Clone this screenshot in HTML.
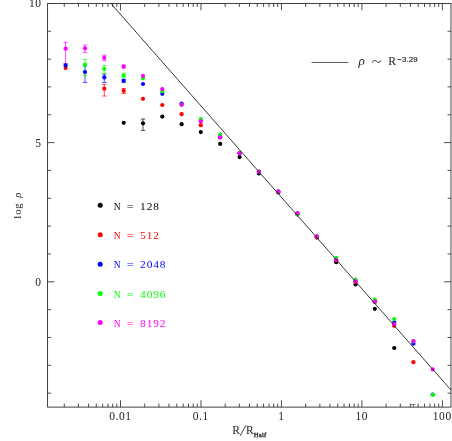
<!DOCTYPE html>
<html><head><meta charset="utf-8"><title>plot</title>
<style>
html,body{margin:0;padding:0;background:#fff;}
body{width:452px;height:441px;overflow:hidden;position:relative;font-family:"Liberation Serif",serif;}
svg text{font-family:"Liberation Serif",serif;}
.t{font:11px "Liberation Serif",serif;}
</style></head><body>
<svg width="452" height="441" viewBox="0 0 452 441" style="position:absolute;left:0;top:0;will-change:transform"><rect x="0" y="0" width="452" height="441" fill="#fff"/><rect x="47.6" y="3.45" width="403.40" height="403.65" fill="none" stroke="#222" stroke-width="0.85"/><path d="M64.25 407.1v-3.5M64.25 3.45v3.5M78.42 407.1v-3.5M78.42 3.45v3.5M88.48 407.1v-3.5M88.48 3.45v3.5M96.28 407.1v-3.5M96.28 3.45v3.5M102.65 407.1v-3.5M102.65 3.45v3.5M108.04 407.1v-3.5M108.04 3.45v3.5M112.70 407.1v-3.5M112.70 3.45v3.5M116.82 407.1v-3.5M116.82 3.45v3.5M120.50 407.1v-6.9M120.50 3.45v6.9M144.72 407.1v-3.5M144.72 3.45v3.5M158.89 407.1v-3.5M158.89 3.45v3.5M168.95 407.1v-3.5M168.95 3.45v3.5M176.75 407.1v-3.5M176.75 3.45v3.5M183.12 407.1v-3.5M183.12 3.45v3.5M188.51 407.1v-3.5M188.51 3.45v3.5M193.17 407.1v-3.5M193.17 3.45v3.5M197.29 407.1v-3.5M197.29 3.45v3.5M200.97 407.1v-6.9M200.97 3.45v6.9M225.19 407.1v-3.5M225.19 3.45v3.5M239.36 407.1v-3.5M239.36 3.45v3.5M249.42 407.1v-3.5M249.42 3.45v3.5M257.22 407.1v-3.5M257.22 3.45v3.5M263.59 407.1v-3.5M263.59 3.45v3.5M268.98 407.1v-3.5M268.98 3.45v3.5M273.64 407.1v-3.5M273.64 3.45v3.5M277.76 407.1v-3.5M277.76 3.45v3.5M281.44 407.1v-6.9M281.44 3.45v6.9M305.66 407.1v-3.5M305.66 3.45v3.5M319.83 407.1v-3.5M319.83 3.45v3.5M329.89 407.1v-3.5M329.89 3.45v3.5M337.69 407.1v-3.5M337.69 3.45v3.5M344.06 407.1v-3.5M344.06 3.45v3.5M349.45 407.1v-3.5M349.45 3.45v3.5M354.11 407.1v-3.5M354.11 3.45v3.5M358.23 407.1v-3.5M358.23 3.45v3.5M361.91 407.1v-6.9M361.91 3.45v6.9M386.13 407.1v-3.5M386.13 3.45v3.5M400.30 407.1v-3.5M400.30 3.45v3.5M410.36 407.1v-3.5M410.36 3.45v3.5M418.16 407.1v-3.5M418.16 3.45v3.5M424.53 407.1v-3.5M424.53 3.45v3.5M429.92 407.1v-3.5M429.92 3.45v3.5M434.58 407.1v-3.5M434.58 3.45v3.5M438.70 407.1v-3.5M438.70 3.45v3.5M442.38 407.1v-6.9M442.38 3.45v6.9M47.6 393.16h3.5M451.0 393.16h-3.5M47.6 365.32h3.5M451.0 365.32h-3.5M47.6 337.48h3.5M451.0 337.48h-3.5M47.6 309.64h3.5M451.0 309.64h-3.5M47.6 281.80h6.9M451.0 281.80h-6.9M47.6 253.96h3.5M451.0 253.96h-3.5M47.6 226.12h3.5M451.0 226.12h-3.5M47.6 198.28h3.5M451.0 198.28h-3.5M47.6 170.44h3.5M451.0 170.44h-3.5M47.6 142.60h6.9M451.0 142.60h-6.9M47.6 114.76h3.5M451.0 114.76h-3.5M47.6 86.92h3.5M451.0 86.92h-3.5M47.6 59.08h3.5M451.0 59.08h-3.5M47.6 31.24h3.5M451.0 31.24h-3.5" stroke="#222" stroke-width="0.8" fill="none"/><path d="M413.4 404.5V407.1M411.00 404.5h4.4" stroke="#333" stroke-width="0.62" fill="none"/><path d="M143.0 119.0V130.4M140.80 119.0h4.4M140.80 130.4h4.4" stroke="#000" stroke-width="0.68" fill="none"/><path d="M104.3 84.4V96.0M102.10 84.4h4.4M102.10 96.0h4.4M123.7 88.5V93.5M121.50 88.5h4.4M121.50 93.5h4.4" stroke="#f00" stroke-width="0.68" fill="none"/><path d="M85.0 66.0V82.4M82.80 66.0h4.4M82.80 82.4h4.4M104.3 74.0V82.4M102.10 74.0h4.4M102.10 82.4h4.4M123.7 79.3V82.3M121.50 79.3h4.4M121.50 82.3h4.4" stroke="#00f" stroke-width="0.68" fill="none"/><path d="M85.0 59.3V75.5M82.80 59.3h4.4M82.80 75.5h4.4M104.3 65.6V73.4M102.10 65.6h4.4M102.10 73.4h4.4M123.7 73.2V77.8M121.50 73.2h4.4M121.50 77.8h4.4" stroke="#0f0" stroke-width="0.68" fill="none"/><path d="M65.6 42.2V63.5M63.40 42.2h4.4M63.40 63.5h4.4M85.0 45.0V52.4M82.80 45.0h4.4M82.80 52.4h4.4M104.3 55.2V60.6M102.10 55.2h4.4M102.10 60.6h4.4M123.7 65.0V68.2M121.50 65.0h4.4M121.50 68.2h4.4" stroke="#f0f" stroke-width="0.68" fill="none"/><circle cx="123.7" cy="122.8" r="2.1" fill="#000"/><circle cx="143.0" cy="123.3" r="2.1" fill="#000"/><circle cx="162.3" cy="116.6" r="2.1" fill="#000"/><circle cx="181.6" cy="124.2" r="2.1" fill="#000"/><circle cx="200.8" cy="132.1" r="2.1" fill="#000"/><circle cx="220.2" cy="143.9" r="2.1" fill="#000"/><circle cx="239.6" cy="157.1" r="2.1" fill="#000"/><circle cx="258.9" cy="173.5" r="2.1" fill="#000"/><circle cx="278.3" cy="192.5" r="2.1" fill="#000"/><circle cx="297.4" cy="214.3" r="2.1" fill="#000"/><circle cx="316.8" cy="237.5" r="2.1" fill="#000"/><circle cx="336.2" cy="262.2" r="2.1" fill="#000"/><circle cx="355.5" cy="284.4" r="2.1" fill="#000"/><circle cx="374.8" cy="308.8" r="2.1" fill="#000"/><circle cx="394.2" cy="348.0" r="2.1" fill="#000"/><circle cx="65.6" cy="68.0" r="2.1" fill="#f00"/><circle cx="104.3" cy="88.7" r="2.1" fill="#f00"/><circle cx="123.7" cy="90.8" r="2.1" fill="#f00"/><circle cx="143.0" cy="98.8" r="2.1" fill="#f00"/><circle cx="162.3" cy="105.0" r="2.1" fill="#f00"/><circle cx="181.6" cy="114.2" r="2.1" fill="#f00"/><circle cx="200.8" cy="125.2" r="2.1" fill="#f00"/><circle cx="220.2" cy="137.4" r="2.1" fill="#f00"/><circle cx="239.6" cy="153.3" r="2.1" fill="#f00"/><circle cx="258.9" cy="172.0" r="2.1" fill="#f00"/><circle cx="278.3" cy="191.8" r="2.1" fill="#f00"/><circle cx="297.4" cy="213.8" r="2.1" fill="#f00"/><circle cx="316.8" cy="237.3" r="2.1" fill="#f00"/><circle cx="336.2" cy="260.5" r="2.1" fill="#f00"/><circle cx="355.5" cy="282.0" r="2.1" fill="#f00"/><circle cx="374.8" cy="302.0" r="2.1" fill="#f00"/><circle cx="394.2" cy="325.8" r="2.1" fill="#f00"/><circle cx="413.4" cy="362.2" r="2.1" fill="#f00"/><circle cx="65.6" cy="65.3" r="2.1" fill="#00f"/><circle cx="85.0" cy="72.0" r="2.1" fill="#00f"/><circle cx="104.3" cy="77.4" r="2.1" fill="#00f"/><circle cx="123.7" cy="80.8" r="2.1" fill="#00f"/><circle cx="143.0" cy="84.0" r="2.1" fill="#00f"/><circle cx="162.3" cy="93.8" r="2.1" fill="#00f"/><circle cx="181.6" cy="103.6" r="2.1" fill="#00f"/><circle cx="200.8" cy="121.0" r="2.1" fill="#00f"/><circle cx="220.2" cy="137.0" r="2.1" fill="#00f"/><circle cx="239.6" cy="153.3" r="2.1" fill="#00f"/><circle cx="258.9" cy="171.8" r="2.1" fill="#00f"/><circle cx="278.3" cy="191.6" r="2.1" fill="#00f"/><circle cx="297.4" cy="213.5" r="2.1" fill="#00f"/><circle cx="316.8" cy="236.5" r="2.1" fill="#00f"/><circle cx="336.2" cy="259.5" r="2.1" fill="#00f"/><circle cx="355.5" cy="281.0" r="2.1" fill="#00f"/><circle cx="374.8" cy="301.0" r="2.1" fill="#00f"/><circle cx="394.2" cy="322.3" r="2.1" fill="#00f"/><circle cx="413.4" cy="343.7" r="2.1" fill="#00f"/><circle cx="432.7" cy="394.5" r="2.1" fill="#00f"/><circle cx="85.0" cy="64.5" r="2.1" fill="#0f0"/><circle cx="104.3" cy="69.0" r="2.1" fill="#0f0"/><circle cx="123.7" cy="75.5" r="2.1" fill="#0f0"/><circle cx="143.0" cy="78.3" r="2.1" fill="#0f0"/><circle cx="162.3" cy="91.2" r="2.1" fill="#0f0"/><circle cx="181.6" cy="104.7" r="2.1" fill="#0f0"/><circle cx="200.8" cy="119.0" r="2.1" fill="#0f0"/><circle cx="220.2" cy="134.7" r="2.1" fill="#0f0"/><circle cx="239.6" cy="152.8" r="2.1" fill="#0f0"/><circle cx="258.9" cy="171.5" r="2.1" fill="#0f0"/><circle cx="278.3" cy="191.4" r="2.1" fill="#0f0"/><circle cx="297.4" cy="214.3" r="2.1" fill="#0f0"/><circle cx="316.8" cy="236.3" r="2.1" fill="#0f0"/><circle cx="336.2" cy="257.8" r="2.1" fill="#0f0"/><circle cx="355.5" cy="279.7" r="2.1" fill="#0f0"/><circle cx="374.8" cy="299.6" r="2.1" fill="#0f0"/><circle cx="394.2" cy="319.1" r="2.1" fill="#0f0"/><circle cx="413.4" cy="341.3" r="2.1" fill="#0f0"/><circle cx="432.7" cy="394.9" r="2.1" fill="#0f0"/><circle cx="65.6" cy="48.7" r="2.1" fill="#f0f"/><circle cx="85.0" cy="48.3" r="2.1" fill="#f0f"/><circle cx="104.3" cy="57.8" r="2.1" fill="#f0f"/><circle cx="123.7" cy="66.6" r="2.1" fill="#f0f"/><circle cx="143.0" cy="75.8" r="2.1" fill="#f0f"/><circle cx="162.3" cy="89.1" r="2.1" fill="#f0f"/><circle cx="181.6" cy="104.7" r="2.1" fill="#f0f"/><circle cx="200.8" cy="121.3" r="2.1" fill="#f0f"/><circle cx="220.2" cy="137.4" r="2.1" fill="#f0f"/><circle cx="239.6" cy="153.1" r="2.1" fill="#f0f"/><circle cx="258.9" cy="171.6" r="2.1" fill="#f0f"/><circle cx="278.3" cy="191.4" r="2.1" fill="#f0f"/><circle cx="297.4" cy="213.2" r="2.1" fill="#f0f"/><circle cx="316.8" cy="236.3" r="2.1" fill="#f0f"/><circle cx="336.2" cy="260.0" r="2.1" fill="#f0f"/><circle cx="355.5" cy="281.4" r="2.1" fill="#f0f"/><circle cx="374.8" cy="301.7" r="2.1" fill="#f0f"/><circle cx="394.2" cy="324.2" r="2.1" fill="#f0f"/><circle cx="413.4" cy="341.2" r="2.1" fill="#f0f"/><circle cx="432.7" cy="369.4" r="2.1" fill="#f0f"/><path d="M112.1 3.45V4.9L451.0 390.09" fill="none" stroke="#222" stroke-width="0.9"/><line x1="311.5" y1="62.45" x2="348.3" y2="62.45" stroke="#222" stroke-width="0.75"/><circle cx="100.2" cy="205.3" r="2.5" fill="#000"/><text x="113.7" y="209.5" fill="#000" class="t" textLength="6.9" lengthAdjust="spacingAndGlyphs">N</text><text x="126.7" y="209.5" fill="#000" class="t" textLength="6.9" lengthAdjust="spacingAndGlyphs">=</text><text x="140.1" y="209.5" fill="#000" style="font:11.4px 'Liberation Serif',serif;letter-spacing:0.85px">128</text><circle cx="100.2" cy="234.8" r="2.5" fill="#f00"/><text x="113.7" y="239.0" fill="#f00" class="t" textLength="6.9" lengthAdjust="spacingAndGlyphs">N</text><text x="126.7" y="239.0" fill="#f00" class="t" textLength="6.9" lengthAdjust="spacingAndGlyphs">=</text><text x="140.1" y="239.0" fill="#f00" style="font:11.4px 'Liberation Serif',serif;letter-spacing:0.85px">512</text><circle cx="100.2" cy="264.2" r="2.5" fill="#00f"/><text x="113.7" y="268.4" fill="#00f" class="t" textLength="6.9" lengthAdjust="spacingAndGlyphs">N</text><text x="126.7" y="268.4" fill="#00f" class="t" textLength="6.9" lengthAdjust="spacingAndGlyphs">=</text><text x="140.1" y="268.4" fill="#00f" style="font:11.4px 'Liberation Serif',serif;letter-spacing:0.85px">2048</text><circle cx="100.2" cy="293.5" r="2.5" fill="#0f0"/><text x="113.7" y="297.7" fill="#0f0" class="t" textLength="6.9" lengthAdjust="spacingAndGlyphs">N</text><text x="126.7" y="297.7" fill="#0f0" class="t" textLength="6.9" lengthAdjust="spacingAndGlyphs">=</text><text x="140.1" y="297.7" fill="#0f0" style="font:11.4px 'Liberation Serif',serif;letter-spacing:0.85px">4096</text><circle cx="100.2" cy="322.6" r="2.5" fill="#f0f"/><text x="113.7" y="326.8" fill="#f0f" class="t" textLength="6.9" lengthAdjust="spacingAndGlyphs">N</text><text x="126.7" y="326.8" fill="#f0f" class="t" textLength="6.9" lengthAdjust="spacingAndGlyphs">=</text><text x="140.1" y="326.8" fill="#f0f" style="font:11.4px 'Liberation Serif',serif;letter-spacing:0.85px">8192</text><text x="120.40" y="420.25" fill="#222" text-anchor="middle" style="font:11.5px 'Liberation Serif',serif;letter-spacing:0.6px">0.01</text><text x="200.87" y="420.25" fill="#222" text-anchor="middle" style="font:11.5px 'Liberation Serif',serif;letter-spacing:0.6px">0.1</text><text x="281.34" y="420.25" fill="#222" text-anchor="middle" style="font:11.5px 'Liberation Serif',serif;letter-spacing:0.6px">1</text><text x="361.81" y="420.25" fill="#222" text-anchor="middle" style="font:11.5px 'Liberation Serif',serif;letter-spacing:0.6px">10</text><text x="442.28" y="420.25" fill="#222" text-anchor="middle" style="font:11.5px 'Liberation Serif',serif;letter-spacing:0.6px">100</text><text x="41.6" y="285.70" fill="#222" text-anchor="end" style="font:11.5px 'Liberation Serif',serif;letter-spacing:0.6px">0</text><text x="41.6" y="146.50" fill="#222" text-anchor="end" style="font:11.5px 'Liberation Serif',serif;letter-spacing:0.6px">5</text><text x="41.6" y="7.30" fill="#222" text-anchor="end" style="font:11.5px 'Liberation Serif',serif;letter-spacing:0.6px">10</text><text x="232.2" y="433.8" fill="#222" style="font:11.5px 'Liberation Serif',serif">R</text><line x1="240.1" y1="435.9" x2="246.1" y2="425.2" stroke="#222" stroke-width="0.85"/><text x="246.0" y="433.8" fill="#222" style="font:11.5px 'Liberation Serif',serif">R</text><text x="253.7" y="436.9" fill="#222" stroke="#222" stroke-width="0.3" style="font:6.7px 'Liberation Serif',serif;letter-spacing:0.2px">Half</text><g transform="translate(20.9,218.7) rotate(-90)"><text x="0" y="0" fill="#222" style="font:10.6px 'Liberation Serif',serif;letter-spacing:0.9px">log</text><text x="20.9" y="0" fill="#222" style="font:italic 10.6px 'Liberation Serif',serif">ρ</text></g><text x="358.6" y="65.0" fill="#222" style="font:italic 13px 'Liberation Serif',serif">ρ</text><path d="M372.3 62.6C373.2 60.2 375.0 59.9 376.6 61.4C378.2 62.9 379.9 62.8 380.9 60.4" fill="none" stroke="#222" stroke-width="1"/><text x="388.2" y="64.9" fill="#222" style="font:11.8px 'Liberation Serif',serif">R</text><text x="397.2" y="62.2" fill="#222" style="font:7.9px 'Liberation Sans',sans-serif;letter-spacing:0.15px" stroke="#222" stroke-width="0.15">−3.29</text></svg>
</body></html>
